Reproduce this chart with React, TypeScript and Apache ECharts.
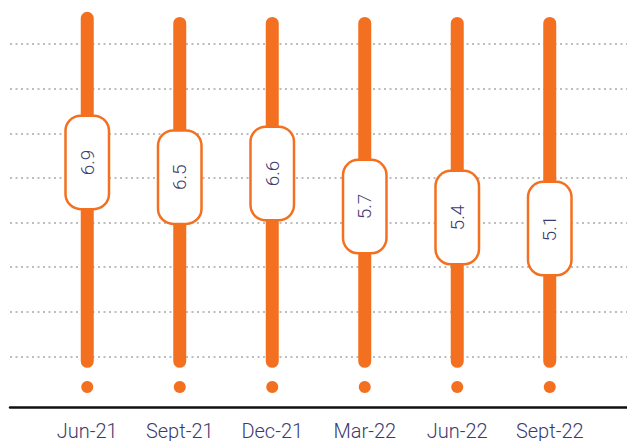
import React, { useEffect, useRef } from "react";
import * as echarts from "echarts";

// Quarterly readings shown in the rounded value badges
const categories = ["Jun-21", "Sept-21", "Dec-21", "Mar-22", "Jun-22", "Sept-22"];
const values = [6.9, 6.5, 6.6, 5.7, 5.4, 5.1];

// Vertical track extents (top / bottom of each orange bar) and the dot below it
const trackTop = [11.0, 10.86, 10.86, 10.86, 10.86, 10.86];
const trackBottom = [1.31, 1.31, 1.31, 1.31, 1.31, 1.31];
const dotValue = [0.79, 0.79, 0.79, 0.79, 0.79, 0.79];

// Background dotted grid rows
const gridRows = [0, 1, 2, 3, 4, 5, 6, 7];

const ORANGE = "#F37021";
const NAVY = "#3d3b6e";
const FONT = "Roboto";

export default function App() {
  const ref = useRef<HTMLDivElement>(null);

  useEffect(() => {
    document.body.style.margin = "0";
    if (!ref.current) return;
    const chart = echarts.init(ref.current, undefined, { renderer: "svg" });

    const trackLen = trackTop.map((t, i) => +(t - trackBottom[i]).toFixed(3));

    chart.setOption({
      animation: false,
      backgroundColor: "#ffffff",
      grid: [
        { left: 41, right: 31, top: 11.8, bottom: 24.4 },
        { left: 10, right: 0, top: 44, bottom: 84.5 },
      ],
      xAxis: [
        {
          type: "category",
          gridIndex: 0,
          data: categories,
          axisLine: { show: false },
          axisTick: { show: false },
          axisLabel: {
            margin: 5,
            color: NAVY,
            fontFamily: FONT,
            fontWeight: 300,
            fontSize: 20,
          },
        },
        {
          type: "value",
          gridIndex: 1,
          min: 0,
          max: 1,
          offset: 51,
          axisLine: { show: true, onZero: false, lineStyle: { color: "#111111", width: 2.5 } },
          axisTick: { show: false },
          axisLabel: { show: false },
          splitLine: { show: false },
        },
      ],
      yAxis: [
        {
          type: "value",
          gridIndex: 0,
          min: 0,
          max: 11,
          show: false,
          splitLine: { show: false },
        },
        {
          type: "value",
          gridIndex: 1,
          min: gridRows[0],
          max: gridRows[gridRows.length - 1],
          interval: 1,
          axisLine: { show: false },
          axisTick: { show: false },
          axisLabel: { show: false },
          splitLine: {
            show: true,
            lineStyle: { color: "#bdbdbd", width: 2, type: [2, 3.5] },
          },
        },
      ],
      series: [
        {
          type: "bar",
          xAxisIndex: 0,
          yAxisIndex: 0,
          stack: "track",
          barWidth: 13,
          silent: true,
          itemStyle: { color: "transparent" },
          data: trackBottom,
          z: 2,
        },
        {
          type: "bar",
          xAxisIndex: 0,
          yAxisIndex: 0,
          stack: "track",
          barWidth: 13,
          itemStyle: { color: ORANGE, borderRadius: 6.5 },
          data: trackLen,
          z: 2,
        },
        {
          type: "scatter",
          xAxisIndex: 0,
          yAxisIndex: 0,
          symbol: "circle",
          symbolSize: 12,
          itemStyle: { color: ORANGE, opacity: 1 },
          data: dotValue,
          z: 3,
        },
        {
          type: "scatter",
          xAxisIndex: 0,
          yAxisIndex: 0,
          symbol: "circle",
          symbolSize: 1,
          itemStyle: { color: "rgba(0,0,0,0)", opacity: 1 },
          data: values,
          z: 5,
          label: {
            show: true,
            position: "inside",
            rotate: 90,
            formatter: (p: any) => Number(p.value).toFixed(1),
            color: NAVY,
            fontFamily: FONT,
            fontWeight: 300,
            fontSize: 19,
            lineHeight: 19,
            width: 25,
            height: 19,
            align: "center",
            verticalAlign: "middle",
            backgroundColor: "#ffffff",
            borderColor: ORANGE,
            borderWidth: 2.5,
            borderRadius: 14,
            padding: [11, 33],
          },
        },
      ],
    });

    return () => chart.dispose();
  }, []);

  return <div ref={ref} style={{ width: 627, height: 441 }} />;
}
